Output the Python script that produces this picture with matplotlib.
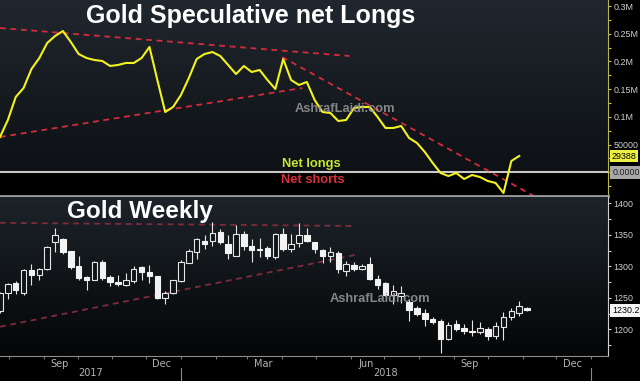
import numpy as np
import pandas as pd
import matplotlib
matplotlib.use("Agg")
import matplotlib.pyplot as plt
import matplotlib.dates as mdates
from matplotlib.colors import LinearSegmentedColormap
from matplotlib.transforms import blended_transform_factory

W, H = 640, 381

# weekly bars
weeks = pd.date_range("2017-07-24", periods=68, freq="7D")

# CFTC speculative net longs (contracts), one per week, last one is 29388
net_longs = [63700, 94400, 135900, 152200, 186500, 206300, 233400, 246000, 255000, 235200,
             213500, 206300, 202700, 200900, 191900, 193700, 197300, 197300, 206300, 226200,
             166600, 108800, 117900, 139500, 170200, 204500, 213500, 217100, 209900, 193700,
             177400, 191900, 181000, 184700, 166600, 150400, 204500, 166600, 157600, 163000,
             130500, 108800, 107000, 92600, 94400, 116100, 117900, 117900, 99800, 80000,
             80000, 83600, 61900, 52900, 36600, 16800, -1300, -6700, -1300, -12100,
             -4900, -8500, -15700, -19300, -37400, 20400, 29388]

# gold weekly OHLC
opens = [1229, 1258, 1273, 1258, 1293, 1286, 1295, 1339, 1342, 1323,
         1300, 1283, 1279, 1306, 1283, 1275, 1271, 1277, 1298, 1291,
         1284, 1250, 1257, 1277, 1306, 1323, 1340, 1340, 1354, 1335,
         1317, 1351, 1332, 1327, 1328, 1315, 1351, 1328, 1337, 1349,
         1338, 1326, 1317, 1321, 1293, 1302, 1296, 1303, 1280, 1273,
         1254, 1253, 1243, 1233, 1226, 1216, 1212, 1184, 1208, 1202,
         1197, 1195, 1200, 1190, 1204, 1219, 1226, 1233]
highs = [1259, 1273, 1277, 1296, 1303, 1298, 1332, 1361, 1345, 1324,
         1316, 1285, 1308, 1310, 1286, 1286, 1290, 1300, 1300, 1302,
         1285, 1261, 1279, 1310, 1327, 1345, 1349, 1370, 1359, 1349,
         1365, 1356, 1344, 1345, 1333, 1353, 1361, 1352, 1369, 1360,
         1339, 1328, 1330, 1324, 1308, 1307, 1303, 1314, 1286, 1275,
         1270, 1268, 1248, 1237, 1232, 1220, 1216, 1211, 1215, 1208,
         1215, 1212, 1204, 1211, 1228, 1234, 1245, 1235]
lows = [1226, 1248, 1256, 1254, 1270, 1279, 1294, 1322, 1319, 1295,
        1279, 1263, 1278, 1279, 1268, 1268, 1269, 1273, 1279, 1273,
        1248, 1240, 1256, 1275, 1305, 1311, 1327, 1332, 1335, 1311,
        1316, 1326, 1307, 1315, 1312, 1311, 1324, 1323, 1331, 1338,
        1321, 1306, 1307, 1289, 1285, 1293, 1294, 1278, 1264, 1253,
        1240, 1242, 1213, 1221, 1205, 1208, 1162, 1183, 1197, 1192,
        1189, 1192, 1183, 1185, 1183, 1215, 1221, 1229]
closes = [1257, 1271, 1262, 1293, 1286, 1295, 1330, 1349, 1322, 1299,
          1282, 1279, 1307, 1282, 1275, 1272, 1277, 1295, 1291, 1284,
          1250, 1257, 1277, 1306, 1323, 1342, 1335, 1353, 1338, 1321,
          1351, 1332, 1326, 1326, 1317, 1351, 1327, 1335, 1349, 1340,
          1327, 1317, 1322, 1295, 1303, 1296, 1300, 1280, 1271, 1254,
          1260, 1257, 1231, 1225, 1216, 1211, 1184, 1206, 1201, 1197,
          1196, 1201, 1190, 1204, 1219, 1229, 1236, 1230.2]

# hand drawn trend lines: (start date, end date), (start value, end value)
cot_upper = (["2017-07-24", "2018-05-31"], [260500, 209900])
cot_lower = (["2017-07-24", "2018-04-19"], [63700, 152200])
cot_steep = (["2018-04-01", "2018-11-11"], [208100, -42800])
gold_top = (["2017-07-24", "2018-06-05"], [1369, 1364])
gold_lower = (["2017-07-24", "2018-06-05"], [1204, 1318])

x_left = pd.Timestamp("2017-07-24")
x_right = pd.Timestamp("2019-01-16")

fig = plt.figure(figsize=(W / 100, H / 100), dpi=100, facecolor="black")
ax1 = fig.add_axes([0, 1 - 196 / H, 608 / W, 196 / H])
ax2 = fig.add_axes([0, 1 - 356 / H, 608 / W, 159 / H], sharex=ax1)

grad_top = LinearSegmentedColormap.from_list("gt", ["#0b0e11", "#20272e"])
grad_bot = LinearSegmentedColormap.from_list("gb", ["#050607", "#1c2329"])
ramp = np.linspace(0, 1, 256).reshape(-1, 1)
for ax, cm in ((ax1, grad_top), (ax2, grad_bot)):
    ax.imshow(ramp, cmap=cm, origin="lower", aspect="auto", extent=[0, 1, 0, 1],
              transform=ax.transAxes, zorder=0)
    for s in ("top", "left"):
        ax.spines[s].set_visible(False)

lab_size = 6.4
lab_font = "Liberation Sans"

# ---- top panel: net longs
ax1.axhspan(-60000, 0, color="black", zorder=0.5)
ax1.axhline(0, color="#c8c8c8", lw=1.5, zorder=1)
dash = (0, (3.2, 2.6))
for dts, vals in (cot_upper, cot_lower, cot_steep):
    ax1.plot(pd.to_datetime(dts), vals, color="#d42c3c", lw=1.3, linestyle=dash, zorder=2)
ax1.plot(weeks[:len(net_longs)], net_longs, color="#f2f21e", lw=1.5, zorder=3)

ax1.set_ylim(-42800, 311000)
ax1.yaxis.tick_right()
ax1.set_yticks([50000, 100000, 150000, 200000, 250000, 300000],
               labels=["50000", "0.1M", "0.15M", "0.2M", "0.25M", "0.3M"])
ax1.set_yticks([-25000, 0, 25000, 75000, 125000, 175000, 225000, 275000], minor=True)
ax1.tick_params(axis="y", which="both", direction="out", length=2.5, width=0.8,
                color="#c8c850", labelcolor="#cfcfcf", labelsize=lab_size, pad=1.5)
ax1.tick_params(axis="x", which="both", length=0, labelbottom=False)
ax1.spines["right"].set_color("#b8b840")
ax1.spines["bottom"].set_color("#9a9a9a")
ax1.spines["bottom"].set_linewidth(2)

ax1.annotate(f"{net_longs[-1]}", xy=(1, net_longs[-1]), xycoords=("axes fraction", "data"),
             xytext=(2.5, 0), textcoords="offset points", ha="left", va="center",
             fontsize=lab_size, family=lab_font, color="black", annotation_clip=False,
             bbox=dict(boxstyle="square,pad=0.2", fc="#eeee44", ec="none"))
ax1.annotate("0.0000", xy=(1, 0), xycoords=("axes fraction", "data"),
             xytext=(3, 0), textcoords="offset points", ha="left", va="center",
             fontsize=lab_size, family=lab_font, color="#202020", annotation_clip=False,
             bbox=dict(boxstyle="square,pad=0.2", fc="#a8a8a8", ec="none"))

# ---- bottom panel: weekly candles
o = np.array(opens, float)
c = np.array(closes, float)
hi = np.array(highs, float)
lo = np.array(lows, float)
top = np.maximum(o, c)
bot = np.minimum(o, c)
up = c >= o
ax2.vlines(weeks, top, hi, color="#e6e6e6", lw=0.8, zorder=3)
ax2.vlines(weeks, lo, bot, color="#e6e6e6", lw=0.8, zorder=3)
ax2.bar(weeks[up], (top - bot)[up] + 0.6, bottom=bot[up], width=4.9,
        facecolor="#101418", edgecolor="#e6e6e6", lw=0.8, zorder=4)
ax2.bar(weeks[~up], (top - bot)[~up] + 0.6, bottom=bot[~up], width=4.9,
        facecolor="#f2f2f2", edgecolor="#f2f2f2", lw=0.8, zorder=4)

for dts, vals in (gold_top, gold_lower):
    ax2.plot(pd.to_datetime(dts), vals, color="#7e2c3c", lw=1.3, linestyle=dash, zorder=2)

ax2.set_ylim(1157.6, 1410)
ax2.yaxis.tick_right()
ax2.set_yticks([1200, 1250, 1300, 1350, 1400])
ax2.set_yticks([1175, 1225, 1275, 1325, 1375], minor=True)
ax2.tick_params(axis="y", which="both", direction="out", length=2.5, width=0.8,
                color="#d0d0d0", labelcolor="#cfcfcf", labelsize=lab_size, pad=1.5)
ax2.spines["right"].set_color("#d0d0d0")
ax2.spines["bottom"].set_color("#8a8a8a")
ax2.annotate(f"{closes[-1]:.1f}", xy=(1, closes[-1]), xycoords=("axes fraction", "data"),
             xytext=(3, 0), textcoords="offset points", ha="left", va="center",
             fontsize=lab_size, family=lab_font, color="black", annotation_clip=False,
             bbox=dict(boxstyle="square,pad=0.2", fc="#f4f4f4", ec="none"))
for lab in ax1.get_yticklabels() + ax2.get_yticklabels():
    lab.set_family(lab_font)

ax2.set_xlim(x_left, x_right)
mid = pd.to_datetime(["2017-09-15", "2017-12-15", "2018-03-15", "2018-06-15",
                      "2018-09-15", "2018-12-15"])
ax2.set_xticks(mid, labels=["Sep", "Dec", "Mar", "Jun", "Sep", "Dec"])
ax2.xaxis.set_minor_locator(mdates.MonthLocator())
ax2.tick_params(axis="x", which="major", length=0, labelsize=7, labelcolor="#b4b4b4", pad=2)
ax2.tick_params(axis="x", which="minor", length=2.5, color="#8a8a8a", direction="out")

blend = blended_transform_factory(ax2.transData, ax2.transAxes)
y2018 = pd.Timestamp("2018-01-01")
y2019 = pd.Timestamp("2019-01-01")
for x0, x1, yr in ((x_left, y2018, "2017"), (y2018, y2019, "2018")):
    ax2.text(x0 + (x1 - x0) / 2, -0.108, yr, transform=blend, ha="center", va="center",
             fontsize=7, color="#b4b4b4")
for yb in (y2018, y2019):
    ax2.plot([yb, yb], [-0.075, -0.16], transform=blend, color="#8a8a8a", lw=0.8,
             clip_on=False)

# ---- texts
bold = dict(family="Liberation Sans", weight="bold")
fig.text(86 / W, 1 - 23.5 / H, "Gold Speculative net Longs", color="white", fontsize=18,
         va="baseline", ha="left", **bold)
fig.text(67 / W, 1 - 218 / H, "Gold Weekly", color="white", fontsize=17.5,
         va="baseline", ha="left", **bold)
fig.text(282 / W, 1 - 166.5 / H, "Net longs", color="#c8e632", fontsize=9.3,
         va="baseline", ha="left", **bold)
fig.text(281 / W, 1 - 183.5 / H, "Net shorts", color="#d8303c", fontsize=9.3,
         va="baseline", ha="left", **bold)
fig.text(295 / W, 1 - 112 / H, "AshrafLaidi.com", color="#9a9a9a", fontsize=9.3,
         va="baseline", ha="left", alpha=0.85, zorder=5, **bold)
fig.text(330 / W, 1 - 302 / H, "AshrafLaidi.com", color="#9a9a9a", fontsize=9.3,
         va="baseline", ha="left", alpha=0.85, zorder=5, **bold)

fig.savefig("out.png", dpi=100, facecolor="black")
